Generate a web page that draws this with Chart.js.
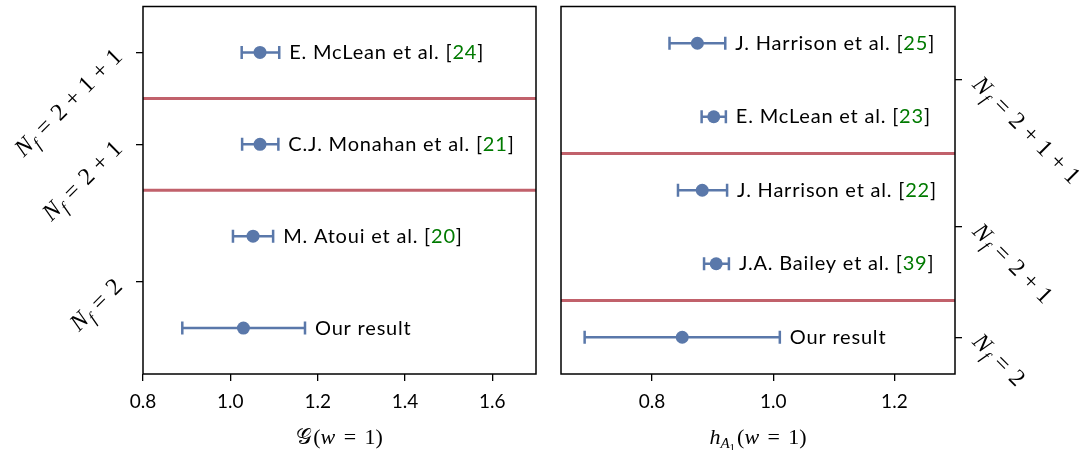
<!DOCTYPE html>
<html>
<head>
<meta charset="UTF-8">
<title>G(w=1) and hA1(w=1) comparison</title>
<style>
  body { margin: 0; background: #fff; }
  .wrap { position: relative; width: 1090px; height: 450px; }
  #leftBox { position: absolute; left: 0; top: 0; width: 548px; height: 450px; }
  #rightBox { position: absolute; left: 548px; top: 0; width: 542px; height: 450px; }
</style>
</head>
<body>
<div class="wrap">
  <div id="leftBox"><canvas id="leftChart" width="548" height="450"></canvas></div>
  <div id="rightBox"><canvas id="rightChart" width="542" height="450"></canvas></div>
</div>
<script src="https://cdn.jsdelivr.net/npm/chart.js"></script>
<script>
// left panel: G(w=1)
const leftNames = ['Our result', 'M. Atoui et al.', 'C.J. Monahan et al.', 'E. McLean et al.'];
const leftRefs = ['', '20', '21', '24'];
const leftRows = [0, 1, 2, 3];
const leftVals = [1.030, 1.052, 1.068, 1.068];
const leftLo = [0.890, 1.006, 1.027, 1.026];
const leftHi = [1.171, 1.098, 1.110, 1.112];
const leftXTicks = [0.8, 1.0, 1.2, 1.4, 1.6];
const leftGroupTicks = [0.5, 2, 3];
const leftGroupLabels = ['2', '2+1', '2+1+1'];
const leftSeparators = [1.5, 2.5];

// right panel: hA1(w=1)
const rightNames = ['Our result', 'J.A. Bailey et al.', 'J. Harrison et al.', 'E. McLean et al.', 'J. Harrison et al.'];
const rightRefs = ['', '39', '22', '23', '25'];
const rightRows = [0, 1, 2, 3, 4];
const rightVals = [0.850, 0.906, 0.883, 0.902, 0.875];
const rightLo = [0.689, 0.886, 0.843, 0.882, 0.829];
const rightHi = [1.011, 0.927, 0.924, 0.922, 0.921];
const rightXTicks = [0.8, 1.0, 1.2];
const rightGroupTicks = [0, 1.5, 3.5];
const rightGroupLabels = ['2', '2+1', '2+1+1'];
const rightSeparators = [0.5, 2.5];

const BLUE = '#5a78aa';
const RED = '#c1616b';
const GREEN = '#007a00';
const SANS = 'Lato';
const SERIF = '"Liberation Serif"';

function segWidth(ctx, segs) {
  let w = 0;
  for (const s of segs) {
    if (s.t) { ctx.font = s.font; w += ctx.measureText(s.t).width; }
    w += s.gap || 0;
  }
  return w;
}

function drawSegs(ctx, segs, x, y, angle, align) {
  const w = segWidth(ctx, segs);
  ctx.save();
  ctx.translate(x, y);
  ctx.rotate(angle);
  let cx = align === 'right' ? -w : align === 'center' ? -w / 2 : 0;
  ctx.textAlign = 'left';
  ctx.textBaseline = 'alphabetic';
  for (const s of segs) {
    if (s.t) {
      ctx.font = s.font;
      ctx.fillStyle = s.color || '#000';
      ctx.fillText(s.t, cx, s.dy || 0);
      cx += ctx.measureText(s.t).width;
    }
    cx += s.gap || 0;
  }
  ctx.restore();
}

// math spacing, a bit wider than Times glyphs to look like TeX
function opSegs(op, size, wide) {
  const rm = `${size}px ${SERIF}`;
  const g = op === '=' ? size * (wide ? 0.38 : 0.33) : size * 0.28;
  return [{ gap: g }, { t: op, font: rm }, { gap: g }];
}

// N_f = 2+1+1 style label
function nfSegs(group, size) {
  const it = `italic ${size}px ${SERIF}`;
  const rm = `${size}px ${SERIF}`;
  const sub = `italic ${Math.round(size * 0.7)}px ${SERIF}`;
  let segs = [{ t: 'N', font: it }, { gap: 1 }, { t: 'f', font: sub, dy: size * 0.22 }].concat(opSegs('=', size));
  for (const ch of group) {
    if (ch === '+') segs = segs.concat(opSegs('+', size));
    else segs.push({ t: ch, font: rm });
  }
  return segs;
}

function titleSegs(kind, size) {
  const it = `italic ${size}px ${SERIF}`;
  const rm = `${size}px ${SERIF}`;
  const tail = [{ t: '(', font: rm }, { t: 'w', font: it }].concat(opSegs('=', size, true),
    [{ t: '1', font: rm }, { t: ')', font: rm }]);
  if (kind === 'G') {
    return [{ t: '\u{1D4A2}', font: `${size}px "DejaVu Serif", "DejaVu Sans", serif` }, { gap: 1 }].concat(tail);
  }
  return [{ t: 'h', font: it }, { t: 'A', font: `italic ${Math.round(size * 0.7)}px ${SERIF}`, dy: size * 0.2 },
    { t: '1', font: `${Math.round(size * 0.5)}px ${SERIF}`, dy: size * 0.32 }, { gap: 2 }].concat(tail);
}

function forest(cfg) {
  return {
    id: 'forest',
    beforeDatasetsDraw(chart) {
      const { ctx, chartArea: a } = chart;
      const xs = chart.scales.x, ys = chart.scales.y;
      ctx.save();
      // group separators
      ctx.strokeStyle = RED;
      ctx.lineWidth = 3;
      cfg.separators.forEach(v => {
        const y = ys.getPixelForValue(v);
        ctx.beginPath(); ctx.moveTo(a.left, y); ctx.lineTo(a.right, y); ctx.stroke();
      });
      // error bars
      ctx.strokeStyle = BLUE;
      ctx.lineWidth = 2.5;
      cfg.rows.forEach((r, i) => {
        const y = ys.getPixelForValue(r);
        const x1 = xs.getPixelForValue(cfg.lo[i]), x2 = xs.getPixelForValue(cfg.hi[i]);
        ctx.beginPath();
        ctx.moveTo(x1, y); ctx.lineTo(x2, y);
        ctx.moveTo(x1, y - 6.5); ctx.lineTo(x1, y + 6.5);
        ctx.moveTo(x2, y - 6.5); ctx.lineTo(x2, y + 6.5);
        ctx.stroke();
      });
      ctx.restore();
    },
    afterDatasetsDraw(chart) {
      const { ctx } = chart;
      const xs = chart.scales.x, ys = chart.scales.y;
      ctx.save();
      ctx.font = `20px ${SANS}`;
      ctx.letterSpacing = '0.8px';
      ctx.textBaseline = 'middle';
      cfg.rows.forEach((r, i) => {
        let x = xs.getPixelForValue(cfg.hi[i]) + 10;
        const y = ys.getPixelForValue(r);
        const parts = cfg.refs[i]
          ? [[cfg.names[i] + ' [', '#000'], [cfg.refs[i], GREEN], [']', '#000']]
          : [[cfg.names[i], '#000']];
        parts.forEach(([t, c]) => {
          ctx.fillStyle = c;
          ctx.fillText(t, x, y);
          x += ctx.measureText(t).width;
        });
      });
      ctx.restore();
    },
    afterDraw(chart) {
      const { ctx, chartArea: a } = chart;
      const ys = chart.scales.y;
      ctx.save();
      ctx.strokeStyle = '#000';
      ctx.lineWidth = 1.5;
      ctx.strokeRect(a.left, a.top, a.right - a.left, a.bottom - a.top);
      const size = 24;
      const off = size * 0.33 * Math.SQRT1_2;
      cfg.groupTicks.forEach((v, i) => {
        const y = ys.getPixelForValue(v);
        const segs = nfSegs(cfg.groupLabels[i], size);
        if (cfg.side === 'left') {
          drawSegs(ctx, segs, a.left - 25 + off, y + off, -Math.PI / 4, 'right');
        } else {
          drawSegs(ctx, segs, a.right + 22 - off, y + off, Math.PI / 4, 'left');
        }
      });
      drawSegs(ctx, titleSegs(cfg.title, 22), (a.left + a.right) / 2, 444, 0, 'center');
      ctx.restore();
    }
  };
}

function makeChart(id, side, names, refs, rows, vals, lo, hi, xTicks, xMin, xMax, yMax, groupTicks, groupLabels, separators, title, padding) {
  return new Chart(document.getElementById(id), {
    type: 'scatter',
    data: {
      datasets: [{
        data: rows.map((r, i) => ({ x: vals[i], y: r })),
        backgroundColor: BLUE,
        borderWidth: 0,
        pointRadius: 6.5,
        pointHoverRadius: 6.5
      }]
    },
    options: {
      responsive: false,
      animation: false,
      events: [],
      layout: { padding: padding },
      plugins: { legend: { display: false }, tooltip: { enabled: false } },
      scales: {
        x: {
          type: 'linear', min: xMin, max: xMax,
          afterBuildTicks: s => { s.ticks = xTicks.map(v => ({ value: v })); },
          afterFit: s => { s.height = 76; },
          border: { display: false },
          grid: { drawOnChartArea: false, drawTicks: true, tickLength: 7, color: '#000', lineWidth: 1.3 },
          ticks: { color: '#000', font: { family: SANS, size: 19 }, padding: 9, callback: v => v.toFixed(1) }
        },
        y: {
          type: 'linear', position: side, min: -0.5, max: yMax,
          afterBuildTicks: s => { s.ticks = groupTicks.map(v => ({ value: v })); },
          afterFit: s => { s.width = side === 'left' ? 143 : 135; },
          border: { display: false },
          grid: { drawOnChartArea: false, drawTicks: true, tickLength: 7, color: '#000', lineWidth: 1.3 },
          ticks: { display: false }
        }
      }
    },
    plugins: [forest({ side, names, refs, rows, lo, hi, groupTicks, groupLabels, separators, title })]
  });
}

makeChart('leftChart', 'left', leftNames, leftRefs, leftRows, leftVals, leftLo, leftHi, leftXTicks, 0.8, 1.7, 3.5,
  leftGroupTicks, leftGroupLabels, leftSeparators, 'G', { left: 0, right: 12, top: 6, bottom: 0 });
makeChart('rightChart', 'right', rightNames, rightRefs, rightRows, rightVals, rightLo, rightHi, rightXTicks, 0.65, 1.3, 4.5,
  rightGroupTicks, rightGroupLabels, rightSeparators, 'h', { left: 13, right: 0, top: 6, bottom: 0 });
</script>
</body>
</html>
